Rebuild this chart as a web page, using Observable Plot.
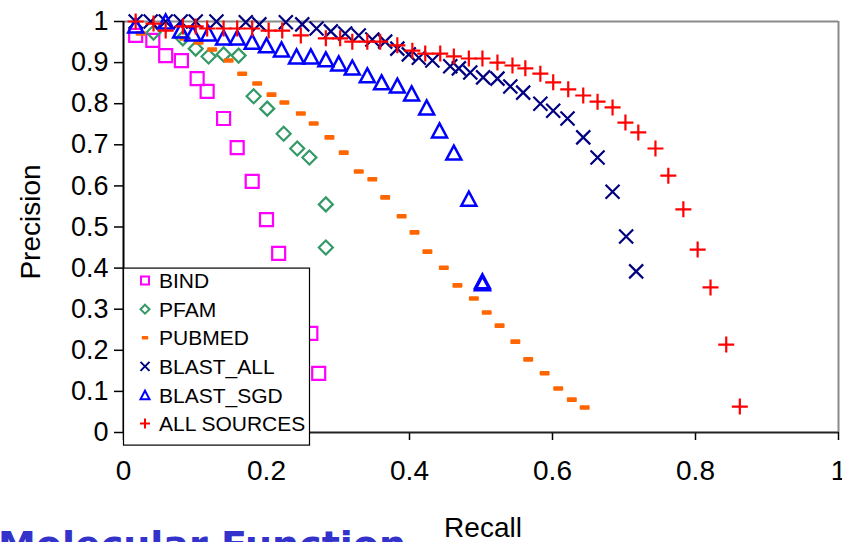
<!DOCTYPE html>
<html><head><meta charset="utf-8">
<script src="https://cdn.jsdelivr.net/npm/d3@7"></script>
<script src="https://cdn.jsdelivr.net/npm/@observablehq/plot@0.6"></script>
<style>
html,body{margin:0;padding:0;background:#fff;overflow:hidden}
#chart{width:842px;height:542px}
svg{overflow:visible}
</style></head><body><div id="chart"></div>
<script>
// ---- data ----
const seriesNames = ["BIND","PFAM","PUBMED","BLAST_ALL","BLAST_SGD","ALL SOURCES"];

const bindRecall    = [0.017,0.041,0.059,0.081,0.103,0.117,0.140,0.159,0.180,0.200,0.217,0.262,0.273];
const bindPrecision = [0.966,0.954,0.917,0.905,0.861,0.830,0.764,0.693,0.611,0.518,0.436,0.241,0.144];

const pfamRecall    = [0.042,0.083,0.101,0.119,0.140,0.161,0.182,0.201,0.224,0.243,0.260,0.283,0.283];
const pfamPrecision = [0.973,0.959,0.934,0.915,0.920,0.917,0.818,0.788,0.727,0.691,0.669,0.555,0.450];

const pubmedRecall    = [0.024,0.085,0.105,0.124,0.147,0.166,0.187,0.207,0.225,0.248,0.266,0.288,0.308,0.329,0.348,0.366,0.389,0.407,0.425,0.448,0.467,0.490,0.508,0.526,0.548,0.566,0.589,0.608,0.627,0.645];
const pubmedPrecision = [0.971,0.959,0.949,0.932,0.905,0.873,0.849,0.822,0.803,0.776,0.752,0.718,0.681,0.635,0.616,0.572,0.526,0.487,0.440,0.401,0.358,0.326,0.292,0.260,0.221,0.178,0.144,0.107,0.080,0.061];

const blastAllRecall    = [0.017,0.038,0.059,0.080,0.101,0.130,0.171,0.190,0.227,0.250,0.270,0.290,0.310,0.329,0.348,0.366,0.383,0.399,0.413,0.432,0.457,0.469,0.485,0.503,0.523,0.541,0.559,0.583,0.601,0.621,0.643,0.663,0.684,0.703,0.717];
const blastAllPrecision = [1,1,1,1,1,1,0.998,0.993,0.998,0.993,0.983,0.976,0.971,0.966,0.956,0.951,0.934,0.920,0.912,0.905,0.891,0.886,0.876,0.864,0.861,0.842,0.827,0.800,0.783,0.764,0.718,0.669,0.586,0.477,0.392];

const blastSgdRecall    = [0.017,0.059,0.080,0.097,0.119,0.140,0.159,0.180,0.200,0.221,0.242,0.262,0.283,0.301,0.320,0.341,0.361,0.383,0.403,0.424,0.442,0.462,0.483,0.502,0.502];
const blastSgdPrecision = [0.990,1.0,0.978,0.971,0.971,0.961,0.961,0.951,0.942,0.932,0.915,0.915,0.908,0.898,0.888,0.869,0.852,0.844,0.825,0.791,0.735,0.681,0.569,0.363,0.368];

const allRecall    = [0.017,0.042,0.059,0.083,0.101,0.117,0.140,0.159,0.180,0.203,0.222,0.248,0.283,0.303,0.320,0.341,0.359,0.383,0.404,0.422,0.443,0.462,0.483,0.502,0.523,0.544,0.562,0.583,0.601,0.622,0.643,0.663,0.684,0.702,0.720,0.744,0.762,0.783,0.803,0.821,0.843,0.862];
const allPrecision = [1.0,0.995,0.978,0.988,0.988,0.983,0.983,0.983,0.983,0.978,0.978,0.966,0.959,0.959,0.951,0.951,0.951,0.942,0.929,0.922,0.922,0.915,0.910,0.910,0.900,0.893,0.886,0.873,0.852,0.835,0.820,0.805,0.791,0.754,0.730,0.691,0.625,0.543,0.445,0.353,0.214,0.063];

const xTicks = [0,0.2,0.4,0.6,0.8,1];
const yTicks = [0,0.1,0.2,0.3,0.4,0.5,0.6,0.7,0.8,0.9,1];
const xLabel = "Recall";
const yLabel = "Precision";
const slideTitle = "Molecular Function";

// ---- marker shapes ----
const squareSym = h => ({draw(c){c.moveTo(-h,-h);c.lineTo(h,-h);c.lineTo(h,h);c.lineTo(-h,h);c.closePath();}});
const diamondSym = h => ({draw(c){c.moveTo(0,-h);c.lineTo(h,0);c.lineTo(0,h);c.lineTo(-h,0);c.closePath();}});
const dashSym = (w,hh) => ({draw(c){c.moveTo(-w,-hh);c.lineTo(w,-hh);c.lineTo(w,hh);c.lineTo(-w,hh);c.closePath();}});
const timesSym = h => ({draw(c){c.moveTo(-h,-h);c.lineTo(h,h);c.moveTo(h,-h);c.lineTo(-h,h);}});
const triSym = (w,h) => ({draw(c){c.moveTo(0,-h);c.lineTo(w,h);c.lineTo(-w,h);c.closePath();}});
const plusSym = h => ({draw(c){c.moveTo(-h,0);c.lineTo(h,0);c.moveTo(0,-h);c.lineTo(0,h);}});

const rows = (r,p) => d3.zip(r,p).map(([recall,precision]) => ({recall,precision}));

const series = [
  {name:seriesNames[0], data:rows(bindRecall,bindPrecision), color:"#ff00ff", sym:squareSym(6.5), leg:squareSym(4), sw:2.2, filled:false},
  {name:seriesNames[1], data:rows(pfamRecall,pfamPrecision), color:"#339966", sym:diamondSym(7), leg:diamondSym(4.5), sw:2.2, filled:false},
  {name:seriesNames[2], data:rows(pubmedRecall,pubmedPrecision), color:"#ff6600", sym:dashSym(4,1.3), leg:dashSym(2.5,1), sw:2, filled:true},
  {name:seriesNames[3], data:rows(blastAllRecall,blastAllPrecision), color:"#000080", sym:timesSym(7), leg:timesSym(4.5), sw:2.2, filled:false},
  {name:seriesNames[4], data:rows(blastSgdRecall,blastSgdPrecision), color:"#0000ff", sym:triSym(7.5,7), leg:triSym(4.5,4.3), sw:2.5, filled:false},
  {name:seriesNames[5], data:rows(allRecall,allPrecision), color:"#ff0000", sym:plusSym(8), leg:plusSym(5), sw:2.2, filled:false}
];

const font = "'Liberation Sans', Arial, sans-serif";

const plot = Plot.plot({
  width: 842, height: 542,
  marginLeft: 123, marginRight: 4, marginTop: 21, marginBottom: 110,
  x: {domain: [0,1]},
  y: {domain: [0,1]},
  style: {fontFamily: font, background: "#fff", color: "#000", overflow: "visible"},
  marks: [
    Plot.ruleY([1], {stroke: "#8a8a8a", strokeWidth: 2}),
    Plot.ruleX([1], {stroke: "#8a8a8a", strokeWidth: 2}),
    Plot.axisY({ticks: yTicks, tickFormat: d => String(d), tickSize: 9, tickPadding: 6, fontSize: 27, label: null, strokeWidth: 1.5}),
    Plot.axisX({ticks: xTicks, tickFormat: d => String(d), tickSize: 8, tickPadding: 20, fontSize: 28, label: null, strokeWidth: 1.5}),
    Plot.ruleX([0], {stroke: "#000", strokeWidth: 2}),
    Plot.ruleY([0], {stroke: "#222", strokeWidth: 2}),
    ...series.map(s => Plot.dot(s.data, {
      x: "recall", y: "precision", symbol: s.sym,
      stroke: s.color, strokeWidth: s.sw,
      fill: s.filled ? s.color : "none",
      strokeLinejoin: s.filled ? "round" : "miter"
    }))
  ]
});
document.getElementById("chart").appendChild(plot);

// ---- legend, axis titles, slide title ----
const svg = d3.select(plot);
const xs = plot.scale("x"), ys = plot.scale("y");
const lg = svg.append("g");
const lx0 = xs.apply(0), ly0 = ys.apply(0.4);
lg.append("rect").attr("x", lx0 + 0.5).attr("y", ly0 + 0.5).attr("width", 186).attr("height", 177)
  .attr("fill", "#fff").attr("stroke", "#000").attr("stroke-width", 1.2);
series.forEach((s, i) => {
  const cy = ly0 + 13 + i * 28.6;
  const p = d3.path(); s.leg.draw(p);
  lg.append("path").attr("transform", `translate(${lx0 + 22},${cy})`).attr("d", p.toString())
    .attr("stroke", s.color).attr("stroke-width", s.filled ? 1.5 : 2)
    .attr("fill", s.filled ? s.color : "none").attr("stroke-linejoin", s.filled ? "round" : "miter");
  lg.append("text").attr("x", lx0 + 36).attr("y", cy).attr("dy", "0.36em").attr("text-anchor", "start")
    .attr("font-family", font).attr("font-size", 21).attr("fill", "#000").text(s.name);
});
svg.append("text").attr("x", 483).attr("y", 537).attr("text-anchor", "middle")
  .attr("font-family", font).attr("font-size", 28).attr("fill", "#000").text(xLabel);
svg.append("text").attr("transform", "translate(40,222) rotate(-90)").attr("text-anchor", "middle")
  .attr("font-family", font).attr("font-size", 28).attr("fill", "#000").text(yLabel);
svg.append("text").attr("x", -2).attr("y", 558).attr("text-anchor", "start")
  .attr("font-family", "'DejaVu Sans', sans-serif").attr("font-weight", "bold").attr("font-size", 38)
  .attr("fill", "#3333cc").text(slideTitle);
</script>
</body></html>
